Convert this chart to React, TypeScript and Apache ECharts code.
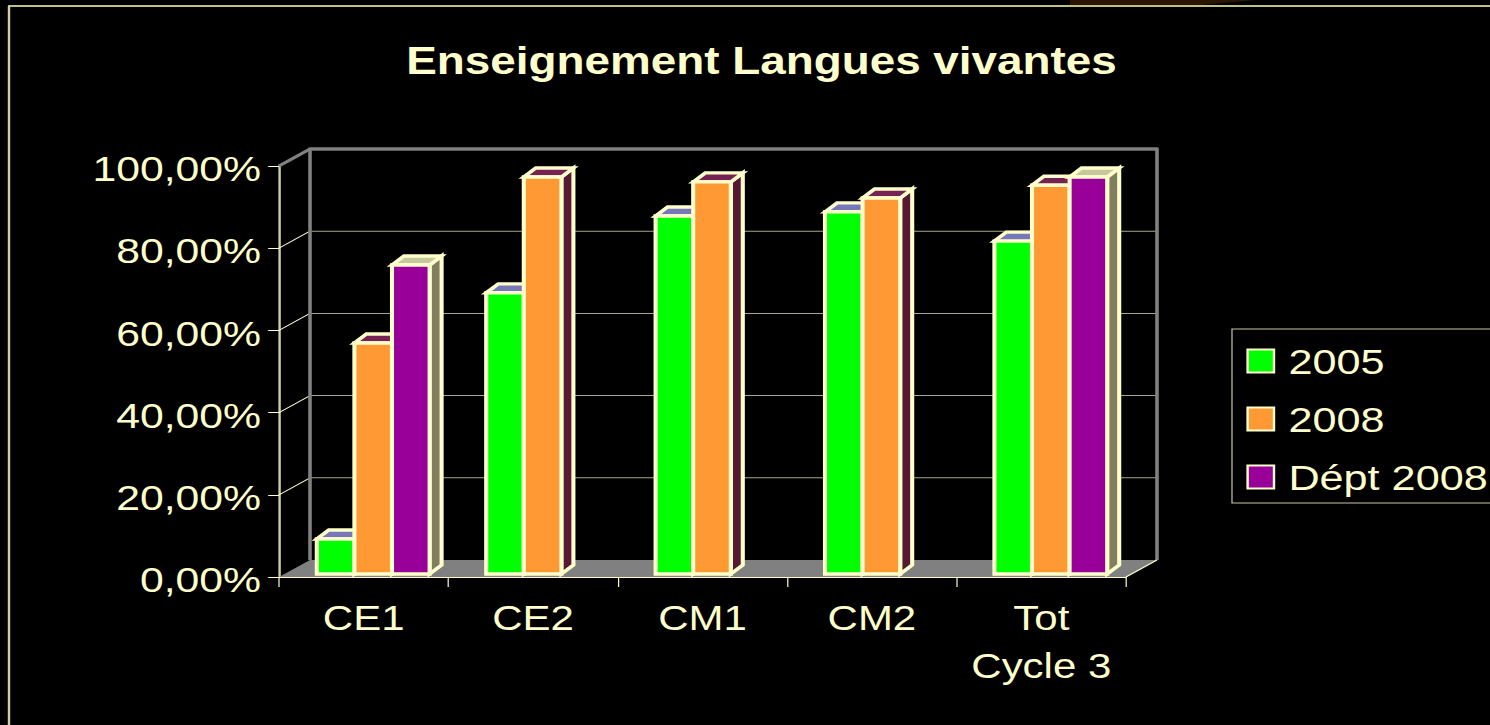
import React, { useEffect, useRef } from "react";
import * as echarts from "echarts";

const categories = ["CE1", "CE2", "CM1", "CM2", "Tot\nCycle 3"];
const seriesNames = ["2005", "2008", "Dépt 2008"];
const values2005 = [8.5, 68.4, 87.1, 88.1, 81];
const values2008 = [56.2, 96.6, 95.4, 91.5, 94.6];
const valuesDept2008 = [75.2, null, null, null, 96.6];
const gridTicks = [20, 40, 60, 80, 100];

const CREAM = "#FFFFCC";
const SX = 1.2; // the reference picture is stretched horizontally
const W = 1490 / SX;
const H = 725;
const px = (x: number) => x / SX;

const frontColors = ["#00FF00", "#FF9933", "#990099"];
const topColors = ["#7777BB", "#772255", "#C8C8A0"];
const sideColors = ["#007700", "#551933", "#808060"];

const WALL_DX = px(31);
const WALL_DY = -17;
const BAR_W = px(37.6);
const BAR_SHIFT = px(9.5);
const BAR_DX = px(12);
const BAR_DY = -9;
const BAR_BASE = -3;

function makeBarRender(si: number) {
  return (_p: any, api: any) => {
    const cat = api.value(0);
    const v = api.value(1);
    const base = api.coord([cat, 0]);
    const top = api.coord([cat, v]);
    const x0 = base[0] + BAR_SHIFT + (si - 1.5) * BAR_W;
    const x1 = x0 + BAR_W;
    const y0 = base[1] + BAR_BASE;
    const y1 = top[1] + BAR_BASE;
    const stroke = { stroke: CREAM, lineWidth: 3.4, lineJoin: "miter" };
    return {
      type: "group",
      children: [
        {
          type: "polygon",
          shape: { points: [[x1, y1], [x1 + BAR_DX, y1 + BAR_DY], [x1 + BAR_DX, y0 + BAR_DY], [x1, y0]] },
          style: { fill: sideColors[si], ...stroke },
        },
        {
          type: "polygon",
          shape: { points: [[x0, y1], [x0 + BAR_DX, y1 + BAR_DY], [x1 + BAR_DX, y1 + BAR_DY], [x1, y1]] },
          style: { fill: topColors[si], ...stroke },
        },
        {
          type: "rect",
          shape: { x: x0, y: y1, width: x1 - x0, height: y0 - y1 },
          style: { fill: frontColors[si], ...stroke },
        },
      ],
    };
  };
}

function renderWall(_p: any, api: any) {
  const v = api.value(1);
  const l = api.coord([0, v]);
  const band = api.size([1, 0])[0];
  const xl = l[0] - band / 2;
  const xr = xl + band * categories.length;
  const y = l[1];
  const isTop = v === 100;
  const grey = "#808080";
  const gridColor = "#A8A888";
  const children: any[] = [
    {
      type: "line",
      shape: { x1: xl + WALL_DX, y1: y + WALL_DY, x2: xr + WALL_DX, y2: y + WALL_DY },
      style: { stroke: isTop ? grey : gridColor, lineWidth: isTop ? 3 : 1 },
    },
    {
      type: "line",
      shape: { x1: xl, y1: y, x2: xl + WALL_DX, y2: y + WALL_DY },
      style: { stroke: isTop ? grey : CREAM, lineWidth: isTop ? 3 : 1 },
    },
  ];
  if (isTop) {
    const b = api.coord([0, 0])[1];
    children.unshift(
      {
        type: "polygon",
        shape: { points: [[xl, b], [xl + WALL_DX, b + WALL_DY], [xr + WALL_DX, b + WALL_DY], [xr, b]] },
        style: { fill: grey },
      },
      {
        type: "polyline",
        shape: { points: [[xl + WALL_DX, b + WALL_DY], [xl + WALL_DX, y + WALL_DY], [xr + WALL_DX, y + WALL_DY], [xr + WALL_DX, b + WALL_DY]] },
        style: { stroke: grey, lineWidth: 3, fill: "none" },
      },
      {
        type: "line",
        shape: { x1: xr, y1: b, x2: xr + WALL_DX, y2: b + WALL_DY },
        style: { stroke: CREAM, lineWidth: 1 },
      }
    );
  }
  return { type: "group", children };
}

export default function App() {
  const ref = useRef<HTMLDivElement>(null);
  useEffect(() => {
    document.body.style.margin = "0";
    document.body.style.background = "#000";
    document.body.style.overflow = "hidden";
    const chart = echarts.init(ref.current!, null, { renderer: "svg" });
    const font = "'Liberation Sans', Arial, sans-serif";
    const seriesValues = [values2005, values2008, valuesDept2008];
    chart.setOption({
      animation: false,
      backgroundColor: "#000000",
      title: {
        text: "Enseignement Langues vivantes",
        left: px(755.5),
        textAlign: "center",
        top: 37,
        textStyle: { color: CREAM, fontFamily: font, fontWeight: "bold", fontSize: 38.2 },
      },
      legend: {
        orient: "vertical",
        left: px(1232),
        top: 329,
        padding: [14, 14, 8, 12],
        borderColor: "#C8C8A0",
        borderWidth: 1,
        icon: "rect",
        itemWidth: 22,
        itemHeight: 23,
        itemGap: 22,
        selectedMode: false,
        itemStyle: { borderColor: CREAM, borderWidth: 2 },
        textStyle: { color: CREAM, fontFamily: font, fontSize: 36, padding: [0, 0, 0, 7] },
        data: seriesNames,
      },
      grid: { left: px(279), top: 166, width: px(847), height: 411, containLabel: false },
      xAxis: {
        type: "category",
        data: categories,
        axisLine: { lineStyle: { color: CREAM, width: 1 } },
        axisTick: { show: true, length: 10, lineStyle: { color: CREAM, width: 1 } },
        axisLabel: { color: CREAM, fontFamily: font, fontSize: 35, margin: 17, lineHeight: 48, interval: 0 },
      },
      yAxis: {
        type: "value",
        min: 0,
        max: 100,
        interval: 20,
        splitLine: { show: false },
        axisLine: { show: true, lineStyle: { color: "#D0D0A8", width: 2 } },
        axisTick: { show: true, length: 9, lineStyle: { color: CREAM, width: 1 } },
        axisLabel: {
          color: CREAM,
          fontFamily: font,
          fontSize: 35.6,
          margin: 15,
          verticalAlign: "top",
          lineHeight: 5,
          formatter: (v: number) => v.toFixed(2).replace(".", ",") + "%",
        },
      },
      graphic: [
        {
          type: "polygon",
          shape: { points: [[px(1070), 0], [px(1257), 0], [px(1200), 5], [px(1070), 5]] },
          style: { fill: "#2A1600" },
        },
        {
          type: "line",
          shape: { x1: px(8), y1: 6, x2: W, y2: 6 },
          style: { stroke: "#FFFFB8", lineWidth: 1.5 },
        },
        {
          type: "line",
          shape: { x1: px(9), y1: 6, x2: px(9), y2: H },
          style: { stroke: "#D0D0A8", lineWidth: 2 },
        },
      ],
      series: [
        {
          type: "custom",
          name: "mur",
          z: 1,
          clip: false,
          silent: true,
          encode: { x: 0, y: 1 },
          renderItem: renderWall,
          data: gridTicks.map((t) => [0, t]),
        },
        ...seriesNames.map((name, si) => ({
          type: "custom",
          name,
          z: 2 + si,
          clip: false,
          encode: { x: 0, y: 1 },
          itemStyle: { color: frontColors[si] },
          renderItem: makeBarRender(si),
          data: seriesValues[si]
            .map((v, i) => [i, v])
            .filter((d) => d[1] !== null),
        })),
      ],
    });
    return () => chart.dispose();
  }, []);
  return (
    <div style={{ width: 1490, height: H, overflow: "hidden", background: "#000" }}>
      <div
        ref={ref}
        style={{ width: W, height: H, transform: `scaleX(${SX})`, transformOrigin: "0 0" }}
      />
    </div>
  );
}
